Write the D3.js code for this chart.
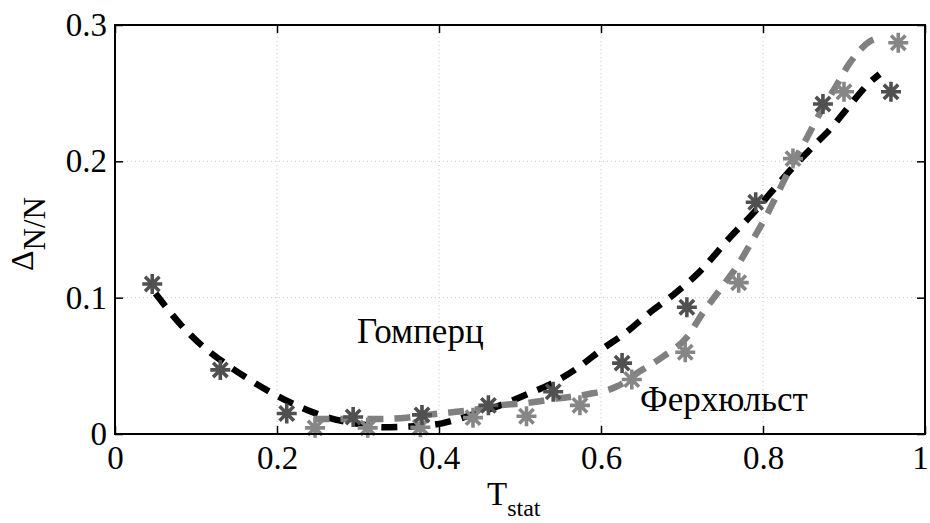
<!DOCTYPE html>
<html>
<head>
<meta charset="utf-8">
<script src="https://cdn.jsdelivr.net/npm/d3@7"></script>
<style>
  body { margin: 0; background: #fff; }
  svg { display: block; font-family: "Liberation Serif", "Times New Roman", serif; }
  .grid line { stroke: #c8c8c8; stroke-width: 1; stroke-dasharray: 1,3; }
  .axis path { stroke: none; }
  .axis line { stroke: #000; stroke-width: 1.5; }
  .axis text { font-size: 33px; fill: #000; font-family: "Liberation Serif", serif; }
</style>
</head>
<body>
<script>
// measured points (stars)
const gompT = [0.046, 0.13, 0.212, 0.294, 0.379, 0.461, 0.541, 0.626, 0.706, 0.791, 0.874, 0.958]
const gompV = [0.110, 0.047, 0.015, 0.0125, 0.014, 0.021, 0.031, 0.052, 0.093, 0.170, 0.242, 0.251]

const verhT = [0.247, 0.312, 0.377, 0.442, 0.508, 0.574, 0.638, 0.704, 0.770, 0.837, 0.900, 0.967]
const verhV = [0.0045, 0.0045, 0.005, 0.012, 0.013, 0.021, 0.040, 0.060, 0.111, 0.202, 0.251, 0.287]

// model curves
const gompFitT = [0.05, 0.08, 0.107, 0.133, 0.163, 0.194, 0.228, 0.261, 0.30, 0.331, 0.364, 0.405, 0.44, 0.471, 0.508, 0.539, 0.570, 0.601, 0.632, 0.66, 0.689, 0.72, 0.762, 0.788, 0.811, 0.836, 0.862, 0.885, 0.907, 0.932, 0.944]
const gompFitV = [0.103, 0.081, 0.065, 0.053, 0.041, 0.030, 0.020, 0.0125, 0.0075, 0.005, 0.0055, 0.008, 0.014, 0.020, 0.029, 0.037, 0.048, 0.062, 0.075, 0.089, 0.102, 0.118, 0.146, 0.162, 0.178, 0.195, 0.211, 0.225, 0.241, 0.258, 0.264]

const verhFitT = [0.245, 0.29, 0.32, 0.36, 0.40, 0.44, 0.475, 0.512, 0.545, 0.582, 0.62, 0.648, 0.677, 0.706, 0.726, 0.747, 0.769, 0.786, 0.805, 0.821, 0.837, 0.854, 0.870, 0.889, 0.907, 0.932, 0.945]
const verhFitV = [0.011, 0.011, 0.011, 0.012, 0.015, 0.0175, 0.021, 0.023, 0.026, 0.029, 0.035, 0.046, 0.057, 0.071, 0.089, 0.106, 0.124, 0.141, 0.161, 0.180, 0.199, 0.217, 0.235, 0.254, 0.272, 0.288, 0.291]

const xTicks = [0, 0.2, 0.4, 0.6, 0.8, 1]
const xTickLabels = ['0', '0.2', '0.4', '0.6', '0.8', '1']
const yTicks = [0, 0.1, 0.2, 0.3]
const yTickLabels = ['0', '0.1', '0.2', '0.3']

const W = 930, H = 523
const mL = 115, mR = 925, mT = 25, mB = 434

const svg = d3.select('body').append('svg')
    .attr('width', W)
    .attr('height', H)

const x = d3.scaleLinear().domain([0, 1]).range([mL, mR])
const y = d3.scaleLinear().domain([0, 0.3]).range([mB, mT])

// dotted grid
const grid = svg.append('g').attr('class', 'grid')
grid.selectAll('line.gx')
    .data(xTicks.slice(1, -1))
    .join('line')
        .attr('class', 'gx')
        .attr('x1', d => x(d)).attr('x2', d => x(d))
        .attr('y1', mT).attr('y2', mB)
grid.selectAll('line.gy')
    .data(yTicks.slice(1, -1))
    .join('line')
        .attr('class', 'gy')
        .attr('x1', mL).attr('x2', mR)
        .attr('y1', d => y(d)).attr('y2', d => y(d))

// curves
const line = d3.line()
    .x(d => x(d[0]))
    .y(d => y(d[1]))
    .curve(d3.curveMonotoneX)

svg.append('path')
    .datum(d3.zip(gompFitT, gompFitV))
    .attr('d', line)
    .attr('fill', 'none')
    .attr('stroke', '#000')
    .attr('stroke-width', 6.5)
    .attr('stroke-dasharray', '16,11')

svg.append('path')
    .datum(d3.zip(verhFitT, verhFitV))
    .attr('d', line)
    .attr('fill', 'none')
    .attr('stroke', '#808080')
    .attr('stroke-width', 6.5)
    .attr('stroke-dasharray', '16,11')

// asterisk markers
const r = 10, rd = r * 0.72
const starPath = `M${-r},0H${r}M0,${-r}V${r}M${-rd},${-rd}L${rd},${rd}M${-rd},${rd}L${rd},${-rd}`

function stars(ts, vs, color) {
    svg.append('g')
        .selectAll('path')
        .data(d3.zip(ts, vs))
        .join('path')
            .attr('transform', d => `translate(${x(d[0])},${y(d[1])})`)
            .attr('d', starPath)
            .attr('stroke', color)
            .attr('stroke-width', 3.6)
            .attr('fill', 'none')
}
stars(verhT, verhV, '#868686')
stars(gompT, gompV, '#505050')

// axes: labelled bottom/left, plain top/right, ticks inward
svg.append('g').attr('class', 'axis')
    .attr('transform', `translate(0,${mB})`)
    .call(d3.axisBottom(x).tickValues(xTicks).tickSizeInner(-8).tickSizeOuter(0).tickPadding(12)
        .tickFormat((d, i) => xTickLabels[i]))
    .call(g => g.selectAll('.tick:last-of-type text').attr('dx', -5))
svg.append('g').attr('class', 'axis')
    .attr('transform', `translate(${mL},0)`)
    .call(d3.axisLeft(y).tickValues(yTicks).tickSizeInner(-8).tickSizeOuter(0).tickPadding(8)
        .tickFormat((d, i) => yTickLabels[i]))
svg.append('g').attr('class', 'axis')
    .attr('transform', `translate(0,${mT})`)
    .call(d3.axisTop(x).tickValues(xTicks).tickSizeInner(-8).tickSizeOuter(0).tickFormat(''))
svg.append('g').attr('class', 'axis')
    .attr('transform', `translate(${mR},0)`)
    .call(d3.axisRight(y).tickValues(yTicks).tickSizeInner(-8).tickSizeOuter(0).tickFormat(''))

// frame
svg.append('rect')
    .attr('x', mL).attr('y', mT)
    .attr('width', mR - mL).attr('height', mB - mT)
    .attr('fill', 'none')
    .attr('stroke', '#000')
    .attr('stroke-width', 2)

// annotations
svg.append('text')
    .attr('x', 357).attr('y', 343)
    .attr('font-size', 35)
    .text('Гомперц')
svg.append('text')
    .attr('x', 640).attr('y', 411)
    .attr('font-size', 35)
    .text('Ферхюльст')

// axis labels
const xl = svg.append('text')
    .attr('x', 487).attr('y', 505)
    .attr('font-size', 33)
xl.append('tspan').text('T')
xl.append('tspan').attr('font-size', 24).attr('dy', 11).text('stat')

const yl = svg.append('text')
    .attr('transform', 'translate(33,271) rotate(-90)')
    .attr('font-size', 32)
yl.append('tspan').text('Δ')
yl.append('tspan').attr('font-size', 31).attr('dy', 12).text('N/N')
</script>
</body>
</html>
